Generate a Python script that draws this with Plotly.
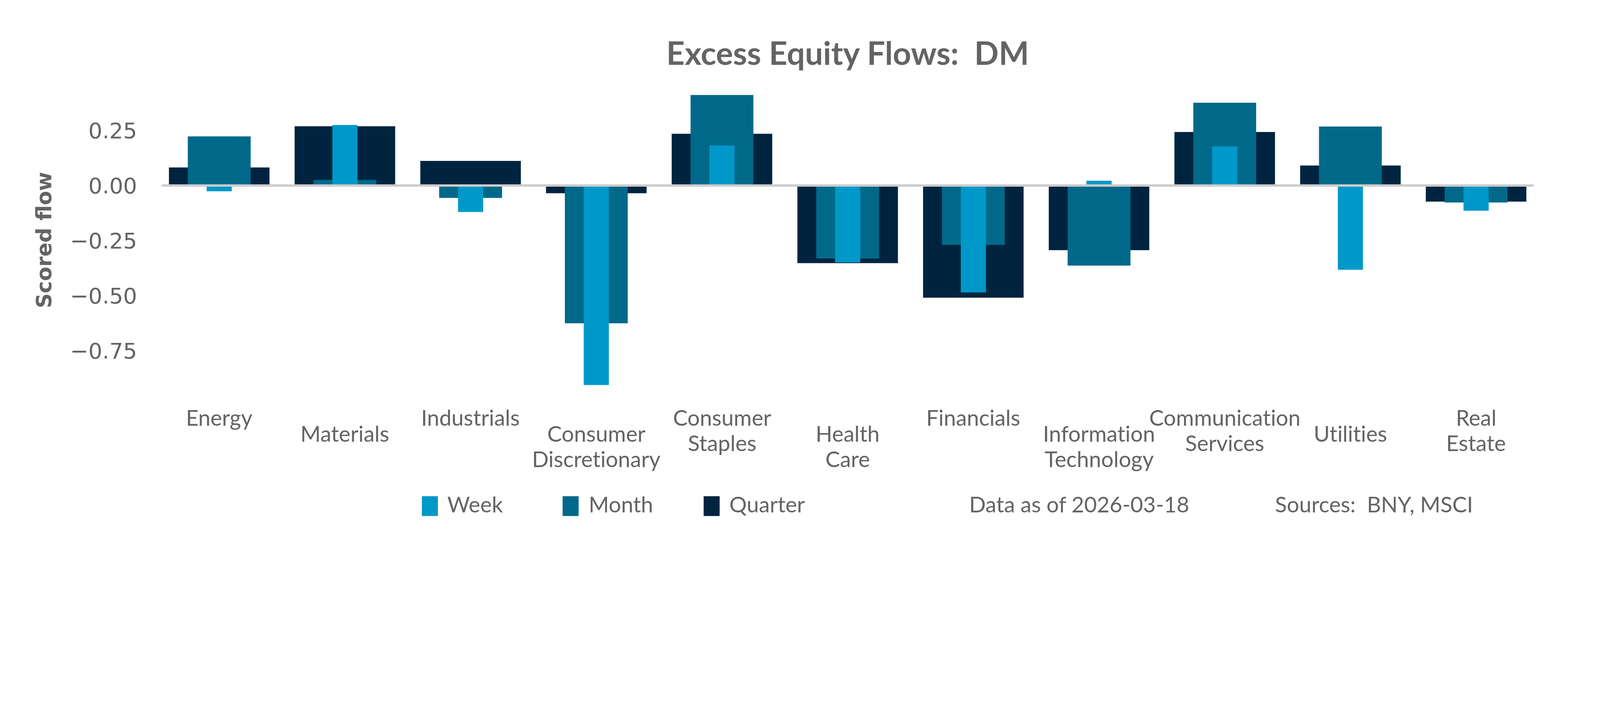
import plotly.graph_objects as go

# sector flows
sectors = ["Energy", "Materials", "Industrials", "Consumer Discretionary",
           "Consumer Staples", "Health Care", "Financials",
           "Information Technology", "Communication Services", "Utilities",
           "Real Estate"]
week = [-0.026, 0.275, -0.120, -0.905, 0.182, -0.349, -0.485, 0.022, 0.178, -0.382, -0.114]
month = [0.223, 0.026, -0.056, -0.625, 0.411, -0.331, -0.269, -0.363, 0.376, 0.268, -0.077]
quarter = [0.082, 0.269, 0.112, -0.035, 0.235, -0.352, -0.509, -0.293, 0.243, 0.091, -0.073]
y_ticks = [-0.75, -0.50, -0.25, 0.00, 0.25]

C_WEEK = "#0098C9"
C_MONTH = "#00698A"
C_QUARTER = "#00243F"
GREY = "#636466"

# the page is 4096 css px wide in the 5400 px shot, plus an 8px body margin;
# layout numbers below are in screenshot pixels, converted to css here
S = 4096 / 5400
OFF = 8


def css(v):
    return v * S - OFF


W, H = 4080, 1345
ML = css(546)
MT = css(266)
PLOT_R = css(5176)
PLOT_B = css(1354)
MR = W - PLOT_R
MB = H - PLOT_B
PW = PLOT_R - ML
PH = PLOT_B - MT


def px_x(x):
    return (css(x) - ML) / PW


def px_y(y):
    return (PLOT_B - css(y)) / PH


def no_lig(t):
    # Lato joins "ti"; the reference font does not
    return t.replace("ti", "t\u200ci")


FS = 56  # body text size

fig = go.Figure()
# widest first so the narrow bars sit on top
for name, vals, col, wd in [("Quarter", quarter, C_QUARTER, 0.8),
                            ("Month", month, C_MONTH, 0.5),
                            ("Week", week, C_WEEK, 0.2)]:
    fig.add_trace(go.Bar(x=sectors, y=vals, name=name, width=wd,
                         marker=dict(color=col, line=dict(width=0)),
                         showlegend=False))

# zero line above bars
fig.add_shape(type="line", xref="paper", x0=0, x1=1, yref="y", y0=0, y1=0,
              line=dict(color="#CCCCCC", width=6), layer="above")

annotations = []
# staggered category labels
for i, s in enumerate(sectors):
    base = 47 if i % 2 else 6
    for j, line in enumerate(s.split(" ")):
        annotations.append(dict(
            x=s, xref="x", y=0, yref="paper", yanchor="top", xanchor="center",
            yshift=-(base + j * 65), text=no_lig(line), showarrow=False,
            font=dict(family="Lato", size=FS, color=GREY)))

# legend drawn by hand so the swatches match
leg = [("Week", C_WEEK, 1424, 1507), ("Month", C_MONTH, 1899, 1984),
       ("Quarter", C_QUARTER, 2375, 2459)]
for name, col, mx, tx in leg:
    fig.add_shape(type="rect", xref="paper", yref="paper",
                  x0=px_x(mx), x1=px_x(mx + 54), y0=px_y(1742), y1=px_y(1675),
                  fillcolor=col, line=dict(width=0))
    annotations.append(dict(x=px_x(tx), y=px_y(1702), xref="paper", yref="paper",
                            xanchor="left", yanchor="middle", text=name,
                            showarrow=False,
                            font=dict(family="Lato", size=FS, color=GREY)))

for txt, tx in [("Data as of 2026-03-18", 3268), ("Sources:  BNY, MSCI", 4301)]:
    annotations.append(dict(x=px_x(tx), y=px_y(1702), xref="paper", yref="paper",
                            xanchor="left", yanchor="middle", text=txt,
                            showarrow=False,
                            font=dict(family="Lato", size=FS, color=GREY)))

fig.update_layout(
    width=W, height=H,
    margin=dict(l=ML, r=MR, t=MT, b=MB),
    barmode="overlay",
    plot_bgcolor="white", paper_bgcolor="white",
    showlegend=False,
    title=dict(text="<b>Excess Equity Flows:  DM</b>", x=0.5, xref="paper",
               y=1 - css(181) / H, yref="container", yanchor="middle", xanchor="center",
               font=dict(family="Lato", size=82, color=GREY)),
    xaxis=dict(range=[-0.4575, 10.4575], showticklabels=False, showgrid=False,
               zeroline=False, showline=False, ticks=""),
    yaxis=dict(range=[-0.978, 0.484], tickvals=y_ticks, tickformat=".2f",
               showgrid=False, zeroline=False, showline=False, ticks="",
               ticklabelstandoff=62,
               tickfont=dict(family="DejaVu Sans", size=56, color=GREY),
               title=dict(text="<b>Scored flow</b>", standoff=30,
                          font=dict(family="DejaVu Sans", size=53, color=GREY))),
    annotations=annotations,
)

fig.write_html("out.html")
